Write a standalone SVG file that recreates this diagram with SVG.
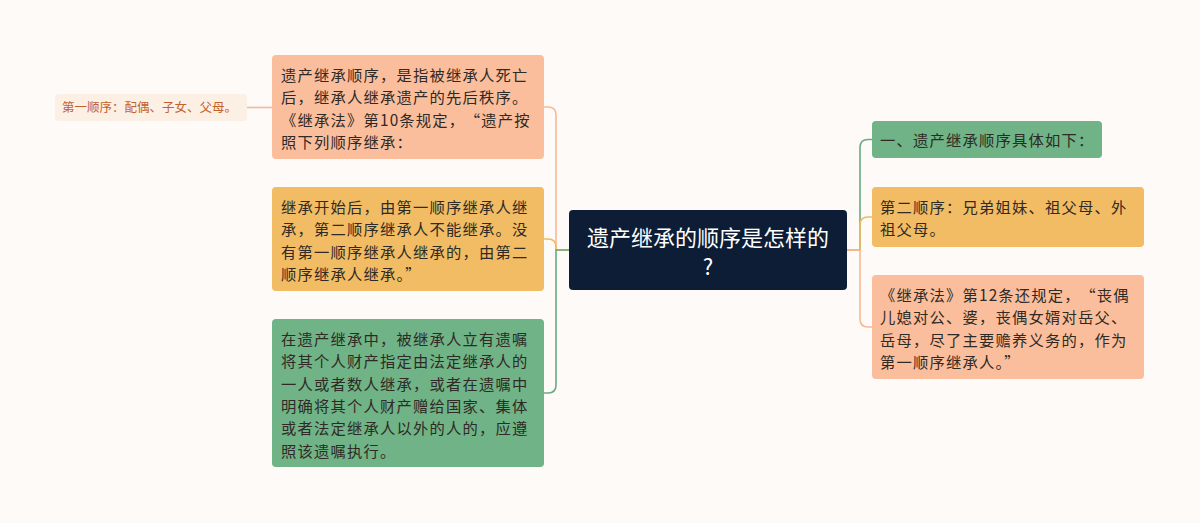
<svg xmlns="http://www.w3.org/2000/svg" width="1200" height="523" viewBox="0 0 1200 523">
<style>
.t{font-family:"Noto Sans CJK SC","Noto Sans",sans-serif;font-size:15.3px;letter-spacing:1.2px;fill:#2f2a25}
.c{font-family:"Noto Sans CJK SC","Noto Sans",sans-serif;font-size:22px;fill:#ffffff;text-anchor:middle}
.s{font-family:"Noto Sans CJK SC","Noto Sans",sans-serif;font-size:12.5px;fill:#c4622b}
.ln{fill:none;stroke-width:1.6}
.sal{fill:#fbbe9c}
.org{fill:#f1bc63}
.grn{fill:#6fb386}
</style>
<rect width="1200" height="523" fill="#fdfaf8"/>
<g id="connectors">
<path class="ln" stroke="#f6b995" d="M247,107.5 H272"/>
<path class="ln" stroke="#f6b995" d="M569,250 H556 V115 Q556,107 548,107 H544"/>
<path class="ln" stroke="#eebb5f" d="M569,250 H556 V247 Q556,239 548,239 H544"/>
<path class="ln" stroke="#6aac80" d="M569,250 H556 V385 Q556,393 548,393 H544"/>
<path class="ln" stroke="#6aac80" d="M847,250 H860 V147.5 Q860,139.5 868,139.5 H872"/>
<path class="ln" stroke="#eebb5f" d="M847,250 H860 V225 Q860,217 868,217 H872"/>
<path class="ln" stroke="#f6b995" d="M847,250 H860 V319 Q860,327 868,327 H872"/>
</g>
<g id="center">
<rect x="569" y="210" width="278" height="80" rx="4" fill="#0d1d35"/>
<text class="c" x="708" y="246">遗产继承的顺序是怎样的</text>
<text class="c" x="708" y="275">?</text>
</g>
<g id="L0">
<rect x="55" y="94" width="192" height="27" rx="4" fill="#fcefe4"/>
<text class="s" x="62" y="112">第一顺序：配偶、子女、父母。</text>
</g>
<g id="L1">
<rect class="sal" x="272" y="55" width="272" height="104" rx="4"/>
<text class="t" x="281" y="81">遗产继承顺序，是指被继承人死亡</text>
<text class="t" x="281" y="103.3">后，继承人继承遗产的先后秩序。</text>
<text class="t" x="281" y="125.6">《继承法》第10条规定，<tspan dx="7">“</tspan>遗产按</text>
<text class="t" x="281" y="147.9">照下列顺序继承：</text>
</g>
<g id="L2">
<rect class="org" x="272" y="187" width="272" height="104" rx="4"/>
<text class="t" x="281" y="213">继承开始后，由第一顺序继承人继</text>
<text class="t" x="281" y="235.3">承，第二顺序继承人不能继承。没</text>
<text class="t" x="281" y="257.6">有第一顺序继承人继承的，由第二</text>
<text class="t" x="281" y="279.9">顺序继承人继承。”</text>
</g>
<g id="L3">
<rect class="grn" x="272" y="319" width="272" height="148" rx="4"/>
<text class="t" x="281" y="345">在遗产继承中，被继承人立有遗嘱</text>
<text class="t" x="281" y="367.3">将其个人财产指定由法定继承人的</text>
<text class="t" x="281" y="389.6">一人或者数人继承，或者在遗嘱中</text>
<text class="t" x="281" y="411.9">明确将其个人财产赠给国家、集体</text>
<text class="t" x="281" y="434.2">或者法定继承人以外的人的，应遵</text>
<text class="t" x="281" y="456.5">照该遗嘱执行。</text>
</g>
<g id="R1">
<rect class="grn" x="872" y="121" width="230" height="37" rx="4"/>
<text class="t" x="880" y="145.5">一、遗产继承顺序具体如下：</text>
</g>
<g id="R2">
<rect class="org" x="872" y="187" width="272" height="60" rx="4"/>
<text class="t" x="880" y="212.5">第二顺序：兄弟姐妹、祖父母、外</text>
<text class="t" x="880" y="234.8">祖父母。</text>
</g>
<g id="R3">
<rect class="sal" x="872" y="275" width="272" height="104" rx="4"/>
<text class="t" x="880" y="301">《继承法》第12条还规定，<tspan dx="7">“</tspan>丧偶</text>
<text class="t" x="880" y="323.3">儿媳对公、婆，丧偶女婿对岳父、</text>
<text class="t" x="880" y="345.6">岳母，尽了主要赡养义务的，作为</text>
<text class="t" x="880" y="367.9">第一顺序继承人。”</text>
</g>
</svg>
